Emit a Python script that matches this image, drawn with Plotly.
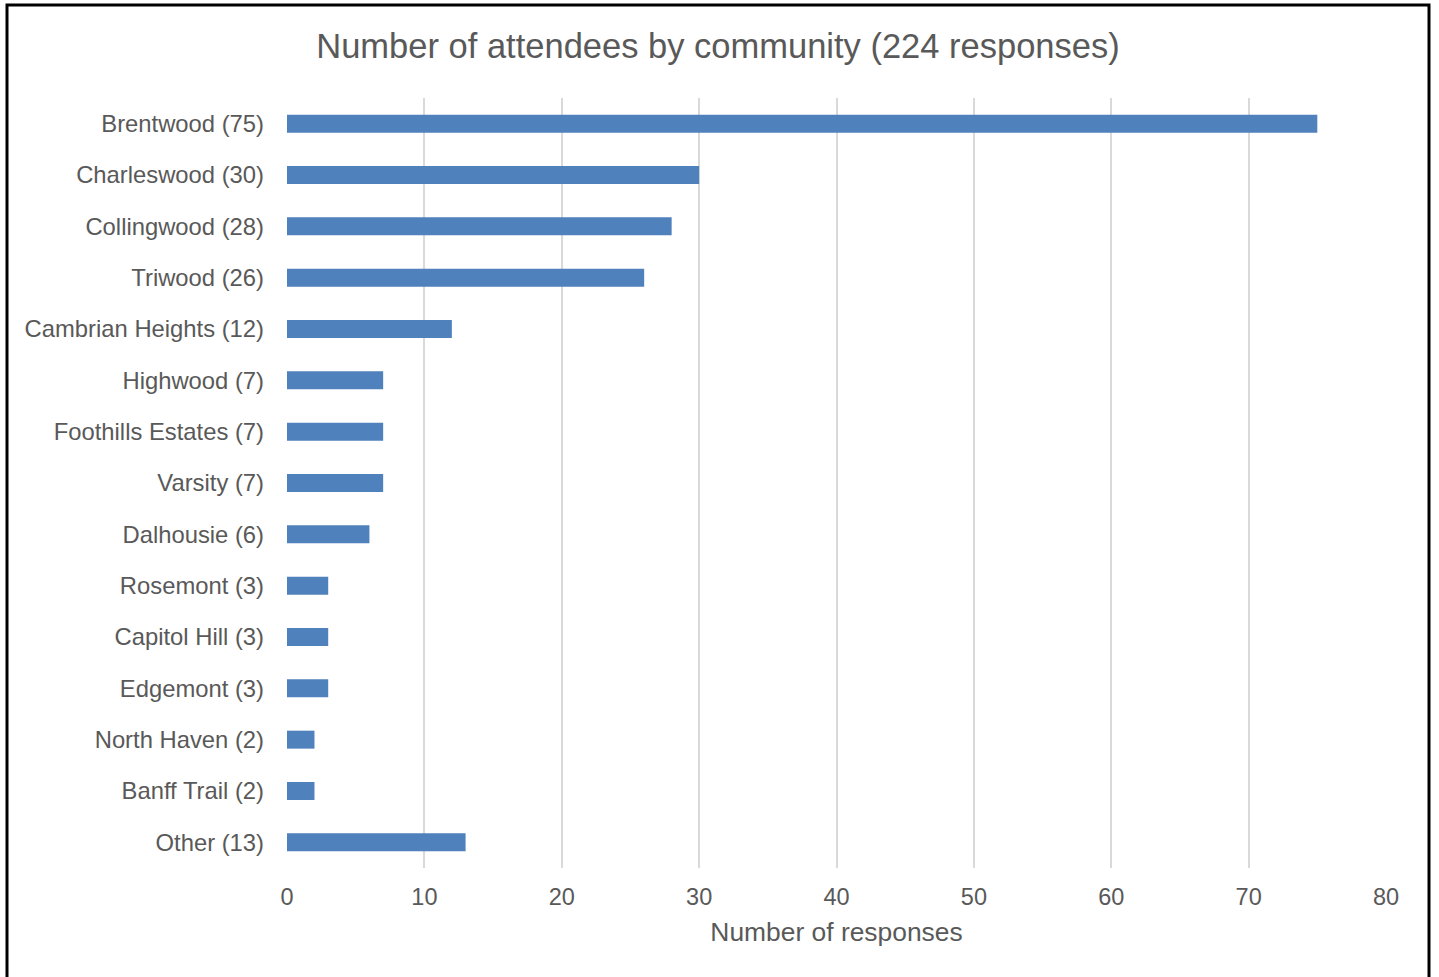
import plotly.graph_objects as go

communities = ["Brentwood (75)", "Charleswood (30)", "Collingwood (28)", "Triwood (26)",
               "Cambrian Heights (12)", "Highwood (7)", "Foothills Estates (7)", "Varsity (7)",
               "Dalhousie (6)", "Rosemont (3)", "Capitol Hill (3)", "Edgemont (3)",
               "North Haven (2)", "Banff Trail (2)", "Other (13)"]
responses = [75, 30, 28, 26, 12, 7, 7, 7, 6, 3, 3, 3, 2, 2, 13]
x_ticks = [0, 10, 20, 30, 40, 50, 60, 70, 80]

W, H = 1439, 977
L, R, T, B = 287, 1386, 98, 868
pw, ph = R - L, B - T

font_color = "#595959"
fam = "Liberation Sans, Arial, sans-serif"

fig = go.Figure(go.Bar(
    x=responses, y=communities, orientation="h",
    marker=dict(color="#4F81BD", line=dict(width=0)),
))

fig.update_layout(
    width=W, height=H,
    margin=dict(l=L, r=W - R, t=T, b=H - B, pad=0),
    paper_bgcolor="white", plot_bgcolor="white",
    bargap=0.65,
    showlegend=False,
    font=dict(family=fam, color=font_color),
    title=dict(text="Number of attendees by community (224 responses)",
               font=dict(size=34.5, color=font_color, family=fam),
               x=718 / W, xanchor="center", y=1 - 46 / H, yanchor="middle"),
    xaxis=dict(range=[0, 80], tickvals=x_ticks, showgrid=True, gridcolor="#d9d9d9",
               gridwidth=2, zeroline=False, showline=False, ticks="",
               tickfont=dict(size=23.5, color=font_color), ticklabelstandoff=12,
               title=dict(text="Number of responses", font=dict(size=26.4, color=font_color),
                          standoff=14)),
    yaxis=dict(categoryorder="array", categoryarray=communities[::-1],
               autorange=False, range=[-0.5, len(communities) - 0.5],
               showgrid=False, zeroline=False, showline=False, ticks="",
               tickfont=dict(size=23.8, color=font_color), ticklabelstandoff=22),
    shapes=[dict(type="rect", xref="paper", yref="paper",
                 x0=(7 - L) / pw, x1=(1429 - L) / pw,
                 y0=(B - 1000) / ph, y1=(B - 5) / ph,
                 line=dict(color="black", width=3), fillcolor="rgba(0,0,0,0)", layer="above")],
)

fig.write_html("out.html", config={"displayModeBar": False},
               post_script="document.body.style.margin='0';document.body.style.overflow='hidden';")
